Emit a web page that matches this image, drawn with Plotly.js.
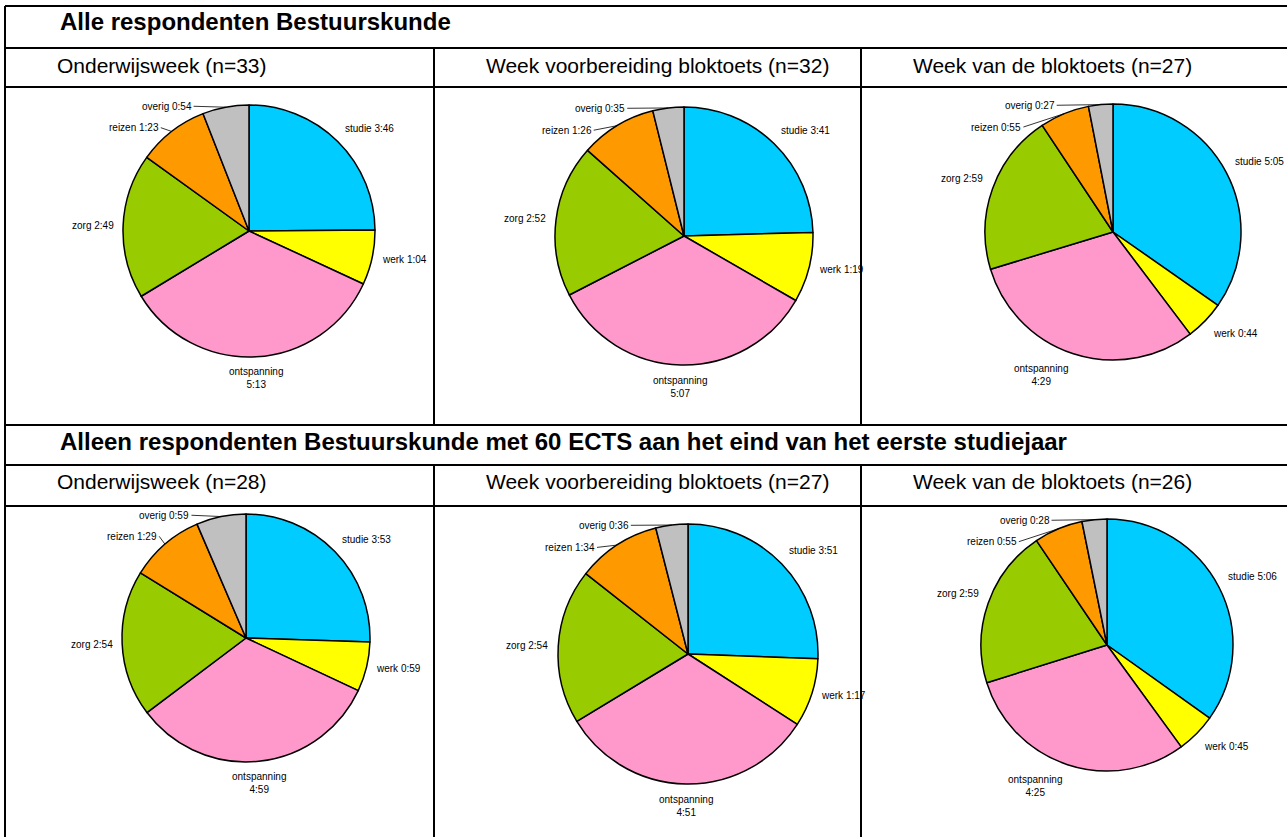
<!DOCTYPE html>
<html>
<head>
<meta charset="utf-8">
<script src="https://cdn.plot.ly/plotly-3.0.1.min.js"></script>
<style>
  body { margin: 0; background: #fff; }
  #plot { width: 1287px; height: 837px; }
</style>
</head>
<body>
<div id="plot"></div>
<script>
// categorieen in volgorde van de taart (met de klok mee vanaf 12 uur)
const categories = ['studie', 'werk', 'ontspanning', 'zorg', 'reizen', 'overig'];

// tijd per dag (uu:mm), zelfde volgorde als categories
const alleOnderwijsweek = ['3:46', '1:04', '5:13', '2:49', '1:23', '0:54'];
const alleVoorbereiding = ['3:41', '1:19', '5:07', '2:52', '1:26', '0:35'];
const alleBloktoets = ['5:05', '0:44', '4:29', '2:59', '0:55', '0:27'];
const ectsOnderwijsweek = ['3:53', '0:59', '4:59', '2:54', '1:29', '0:59'];
const ectsVoorbereiding = ['3:51', '1:17', '4:51', '2:54', '1:34', '0:36'];
const ectsBloktoets = ['5:06', '0:45', '4:25', '2:59', '0:55', '0:28'];

const blockTitles = [
  'Alle respondenten Bestuurskunde',
  'Alleen respondenten Bestuurskunde met 60 ECTS aan het eind van het eerste studiejaar'
];
const weekTitles = [
  ['Onderwijsweek (n=33)', 'Week voorbereiding bloktoets (n=32)', 'Week van de bloktoets (n=27)'],
  ['Onderwijsweek (n=28)', 'Week voorbereiding bloktoets (n=27)', 'Week van de bloktoets (n=26)']
];

const series = [
  [alleOnderwijsweek, alleVoorbereiding, alleBloktoets],
  [ectsOnderwijsweek, ectsVoorbereiding, ectsBloktoets]
];

const colors = ['#00CCFF', '#FFFF00', '#FF99CC', '#99CC00', '#FF9900', '#C0C0C0'];
const FONT = 'Arial, "Liberation Sans", sans-serif';

// page geometry in pixels
const W = 1287, H = 837;
const colEdges = [5, 434, 861, W + 5];
const blocks = [
  { top: 6, sub: 48, body: 87, bottom: 425 },
  { top: 425, sub: 465, body: 506, bottom: H + 5 }
];
// pie centre + radius per cell
const pieGeom = [
  [[249, 231, 126], [684, 236, 129], [1113, 232, 128]],
  [[246, 638, 124], [688, 654, 130], [1107, 645, 126]]
];
// label slots (fraction of radius) for the small slices with leader lines
const leaderSlots = { reizen: [-0.7, -0.82], overig: [-0.44, -0.99] };

const px = x => x / W;
const py = y => 1 - y / H;
const toMinutes = s => { const p = s.split(':'); return (+p[0]) * 60 + (+p[1]); };

const data = [];
const annotations = [];
const shapes = [];

function hline(y, x0, x1) {
  shapes.push({ type: 'line', xref: 'paper', yref: 'paper', x0: px(x0), x1: px(x1), y0: py(y), y1: py(y), line: { color: '#000', width: 2 } });
}
function vline(x, y0, y1) {
  shapes.push({ type: 'line', xref: 'paper', yref: 'paper', x0: px(x), x1: px(x), y0: py(y0), y1: py(y1), line: { color: '#000', width: 2 } });
}

blocks.forEach((b, bi) => {
  hline(b.top, colEdges[0], W + 5);
  hline(b.sub, colEdges[0], W + 5);
  hline(b.body, colEdges[0], W + 5);
  vline(colEdges[1], b.sub, b.bottom);
  vline(colEdges[2], b.sub, b.bottom);

  annotations.push({
    xref: 'paper', yref: 'paper', x: px(58), y: py(b.top + 16),
    xanchor: 'left', yanchor: 'middle', showarrow: false,
    text: '<b>' + blockTitles[bi] + '</b>',
    font: { family: FONT, size: 24, color: '#000' }
  });

  for (let c = 0; c < 3; c++) {
    annotations.push({
      xref: 'paper', yref: 'paper', x: px(colEdges[c] + 50), y: py(b.sub + 17),
      xanchor: 'left', yanchor: 'middle', showarrow: false,
      text: weekTitles[bi][c],
      font: { family: FONT, size: 21, color: '#000' }
    });

    const vals = series[bi][c];
    const minutes = vals.map(toMinutes);
    const [cx, cy, r] = pieGeom[bi][c];

    data.push({
      type: 'pie',
      labels: categories,
      values: minutes,
      sort: false,
      direction: 'clockwise',
      rotation: 0,
      textinfo: 'none',
      hoverinfo: 'label+value',
      showlegend: false,
      marker: { colors: colors, line: { color: '#000', width: 1.5 } },
      domain: { x: [px(cx - r), px(cx + r)], y: [py(cy + r), py(cy - r)] }
    });

    // labels
    const total = minutes.reduce((a, v) => a + v, 0);
    let cum = 0;
    minutes.forEach((m, i) => {
      const theta = (cum + m / 2) / total * 2 * Math.PI;
      cum += m;
      const s = Math.sin(theta), co = Math.cos(theta);
      const cat = categories[i];
      const slot = leaderSlots[cat];
      const font = { family: FONT, size: 10, color: '#000' };
      if (slot) {
        const tx = cx + r * s, ty = cy - r * co;
        const lx = cx + slot[0] * r, ly = cy + slot[1] * r;
        annotations.push({
          xref: 'paper', yref: 'paper', x: px(tx), y: py(ty),
          ax: lx - tx, ay: ly - ty,
          xanchor: 'right', yanchor: 'middle',
          showarrow: true, arrowhead: 0, arrowwidth: 0.8, arrowcolor: '#000', standoff: 0,
          text: cat + ' ' + vals[i], font: font
        });
      } else {
        const k = 1.06;
        const ax = cx + k * r * s, ay = cy - k * r * co;
        const twoLines = co < -0.3 && Math.abs(s) < 0.5;
        annotations.push({
          xref: 'paper', yref: 'paper', x: px(ax), y: py(ay),
          xanchor: s > 0.3 ? 'left' : (s < -0.3 ? 'right' : 'center'),
          yanchor: co > 0.3 ? 'bottom' : (co < -0.3 ? 'top' : 'middle'),
          align: 'center', showarrow: false,
          text: twoLines ? cat + '<br>' + vals[i] : cat + ' ' + vals[i],
          font: font
        });
      }
    });
  }
});
vline(colEdges[0], blocks[0].top, H + 5);

const layout = {
  width: W,
  height: H,
  margin: { l: 0, r: 0, t: 0, b: 0 },
  paper_bgcolor: '#fff',
  plot_bgcolor: '#fff',
  showlegend: false,
  shapes: shapes,
  annotations: annotations
};

Plotly.newPlot('plot', data, layout, { displayModeBar: false, staticPlot: true });
</script>
</body>
</html>
